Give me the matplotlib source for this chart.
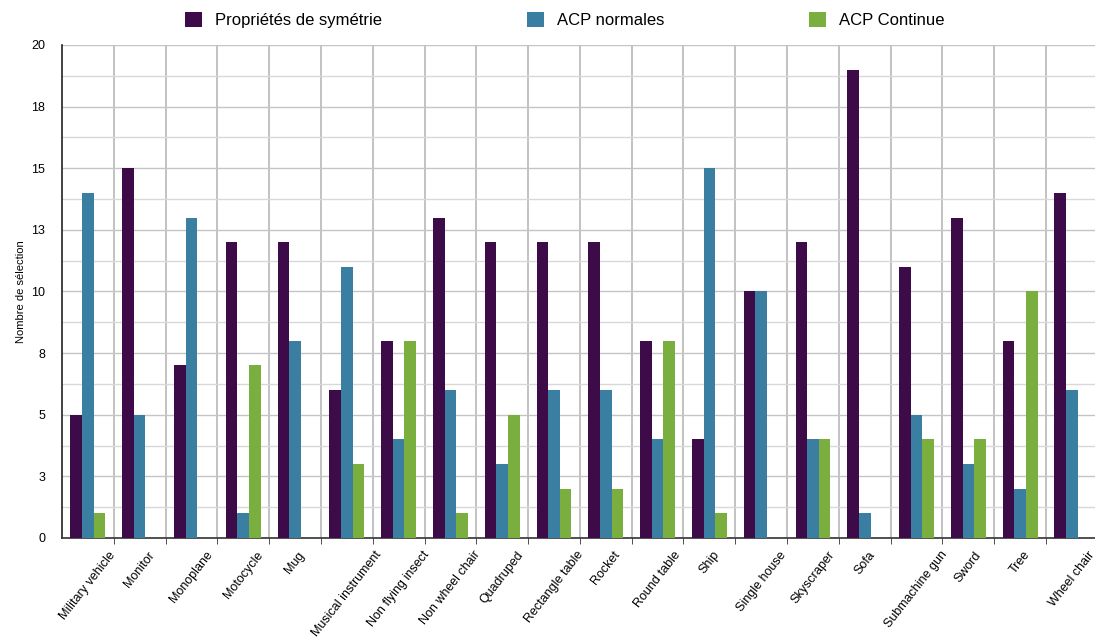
import matplotlib
matplotlib.use("Agg")
import matplotlib.pyplot as plt
import numpy as np

plt.rcParams["font.family"] = ["Liberation Sans", "DejaVu Sans"]

# ─── Data ──────────────────────────────────────────────────────────────────
categories = [
    "Military vehicle", "Monitor", "Monoplane", "Motocycle", "Mug",
    "Musical instrument", "Non flying insect", "Non wheel chair", "Quadruped",
    "Rectangle table", "Rocket", "Round table", "Ship", "Single house",
    "Skyscraper", "Sofa", "Submachine gun", "Sword", "Tree", "Wheel chair",
]
symetrie = [5, 15, 7, 12, 12, 6, 8, 13, 12, 12, 12, 8, 4, 10, 12, 19, 11, 13, 8, 14]
acp_normales = [14, 5, 13, 1, 8, 11, 4, 6, 3, 6, 6, 4, 15, 10, 4, 1, 5, 3, 2, 6]
acp_continue = [1, 0, 0, 7, 0, 3, 8, 1, 5, 2, 2, 8, 1, 0, 4, 0, 4, 4, 10, 0]

series_labels = ["Propriétés de symétrie", "ACP normales", "ACP Continue"]
series_colors = ["#3d0b47", "#3a7ea1", "#7aae3e"]

y_ticks = [0, 2.5, 5, 7.5, 10, 12.5, 15, 17.5, 20]
y_ticklabels = ["0", "3", "5", "8", "10", "13", "15", "18", "20"]


fig = plt.figure(figsize=(10.95, 6.42), dpi=100)
# right edge runs slightly past the figure, as in the original
ax = fig.add_axes([0.0566, 0.162, 0.946, 0.768])

x = np.arange(len(categories))
width = 0.225
for i, (vals, lab, col) in enumerate(zip([symetrie, acp_normales, acp_continue],
                                         series_labels, series_colors)):
    ax.bar(x + (i - 1) * width, vals, width, color=col, label=lab, zorder=3)

ax.set_xlim(-0.5, len(categories) - 0.5)
ax.set_ylim(0, 20)

# horizontal grid: major every 2.5, minor halfway
ax.set_yticks(y_ticks)
ax.set_yticklabels(y_ticklabels, fontsize=9)
ax.set_yticks(np.arange(1.25, 20, 2.5), minor=True)
ax.grid(axis="y", which="major", color="#c4c4c4", linewidth=1.0, zorder=0)
ax.grid(axis="y", which="minor", color="#d8d8d8", linewidth=1.0, zorder=0)
ax.tick_params(axis="y", which="both", length=0, pad=12)

# vertical separators between categories
ax.set_xticks(x)
ax.set_xticklabels(categories, rotation=52, ha="center", fontsize=9)
ax.set_xticks(np.arange(0.5, len(categories) - 0.5, 1), minor=True)
ax.grid(axis="x", which="minor", color="#b8b8b8", linewidth=1.2, zorder=0)
ax.tick_params(axis="x", which="major", length=0, pad=8)
ax.tick_params(axis="x", which="minor", length=4, color="#333333")

for side in ["top", "right"]:
    ax.spines[side].set_visible(False)
ax.spines["left"].set_color("#222222")
ax.spines["bottom"].set_color("#333333")
ax.spines["left"].set_linewidth(1.2)
ax.spines["bottom"].set_linewidth(1.2)

ax.set_ylabel("Nombre de sélection", fontsize=8, labelpad=4)

fig.legend(loc="center", bbox_to_anchor=(0.516, 0.969), ncol=3, frameon=False,
           fontsize=12, handlelength=1.0, handleheight=1.0, columnspacing=8.7,
           handletextpad=0.8)

fig.savefig("out.png", dpi=100)
